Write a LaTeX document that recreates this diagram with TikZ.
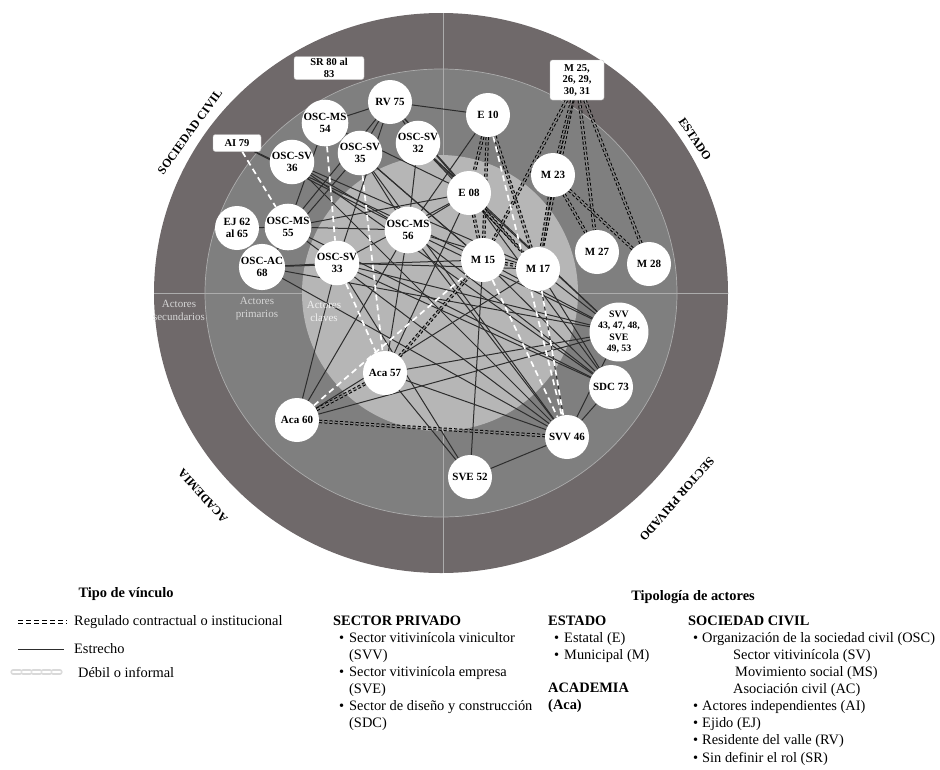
\documentclass[tikz,border=0pt]{standalone}
\usepackage{fontspec}
\setmainfont{Liberation Serif}
\usepackage{tikz}
\definecolor{ringgray}{RGB}{111,105,106}
\definecolor{midgray}{RGB}{127,127,127}
\definecolor{coregray}{RGB}{182,182,182}
\definecolor{gridline}{RGB}{172,172,172}
\definecolor{inkgray}{RGB}{45,45,45}
\definecolor{regfill}{RGB}{140,140,140}
\definecolor{zonetext}{RGB}{214,214,214}
\pgfdeclarelayer{disc}
\pgfdeclarelayer{links}
\pgfsetlayers{disc,links,main}

\begin{document}
\begin{tikzpicture}[x=1pt,y=-1pt,
    actor/.style={circle,fill=white,minimum size=44pt,inner sep=0pt,align=center,
      font=\bfseries\fontsize{11}{11.5}\selectfont},
    bigactor/.style={actor,minimum size=56pt,font=\bfseries\fontsize{9.8}{11.2}\selectfont},
    tagbox/.style={rectangle,rounded corners=2.5pt,draw=gray!45,fill=white,align=center,
      inner sep=0pt,font=\bfseries\fontsize{10.5}{11.5}\selectfont},
    ringlabel/.style={font=\bfseries\fontsize{12}{12}\selectfont},
    zonelabel/.style={align=center,font=\fontsize{11}{13}\selectfont},
    tight/.style={draw=inkgray,line width=1pt},
    regul/.style={draw=black,line width=1pt,double=regfill,double distance=1.4pt,
      dash pattern=on 3pt off 2.2pt},
    weak/.style={draw=white,line width=1.7pt,dash pattern=on 6pt off 4pt},
    weaksample/.style={draw=gray!30,line width=1.2pt,double=white,double distance=2.8pt,
      line cap=round,dash pattern=on 7pt off 3pt},
    legtext/.style={font=\fontsize{14.4}{17.1}\selectfont,inner sep=0pt},
    legtitle/.style={font=\bfseries\fontsize{14.4}{16}\selectfont,inner sep=0pt}
  ]
\useasboundingbox (0,0) rectangle (940,769);

% circulos de fondo
\begin{pgfonlayer}{disc}
  \fill[ringgray] (441,293) ellipse [x radius=287pt, y radius=280pt];
  \fill[midgray] (441,293) ellipse [x radius=236pt, y radius=224pt];
  \draw[gridline,line width=0.7pt] (441,293) ellipse [x radius=236pt, y radius=224pt];
  \begin{scope}
    \clip (441,293) ellipse [x radius=287pt, y radius=280pt];
    \draw[gridline,line width=0.7pt] (443,0) -- (443,600) (140,293) -- (740,293);
  \end{scope}
  \fill[coregray] (440,293) circle [radius=138pt];
\end{pgfonlayer}

% sectores
\node[ringlabel,rotate=54] (civil) at (190,132) {SOCIEDAD CIVIL};
\node[ringlabel,rotate=-56] (estado) at (695,139) {ESTADO};
\node[ringlabel,rotate=-131] (privado) at (677,499) {SECTOR PRIVADO};
\node[ringlabel,rotate=132] (academia) at (203,496) {ACADEMIA};

\node[zonelabel,text=zonetext] (secund) at (179,310) {Actores\\secundarios};
\node[zonelabel,text=zonetext] (prim) at (257,309) {Actores\\primarios};
\node[zonelabel,text=white!88!gray] (claves) at (324,311) {Actores\\claves};

% actores
\node[tagbox,minimum width=70pt,minimum height=23pt] (sr) at (329,68) {SR 80 al\\83};
\node[tagbox,minimum width=54pt,minimum height=40pt] (mbox) at (577,80) {M 25,\\26, 29,\\30, 31};
\node[tagbox,minimum width=48pt,minimum height=17pt] (ai) at (237,143) {AI 79};

\node[actor] (rv) at (390,102) {RV 75};
\node[actor] (ms54) at (325,123) {OSC-MS\\54};
\node[actor] (sv35) at (360,153) {OSC-SV\\35};
\node[actor] (sv32) at (418,143) {OSC-SV\\32};
\node[actor] (sv36) at (292,162) {OSC-SV\\36};
\node[actor] (ej) at (237,228) {EJ 62\\al 65};
\node[actor] (ms55) at (288,227) {OSC-MS\\55};
\node[actor] (ac68) at (262,267) {OSC-AC\\68};
\node[actor] (sv33) at (337,263) {OSC-SV\\33};
\node[actor] (ms56) at (408,230) {OSC-MS\\56};
\node[actor] (e10) at (488,115) {E 10};
\node[actor] (e08) at (469,193) {E 08};
\node[actor] (m23) at (553,175) {M 23};
\node[actor] (m15) at (483,260) {M 15};
\node[actor] (m17) at (538,269) {M 17};
\node[actor] (m27) at (597,252) {M 27};
\node[actor] (m28) at (649,264) {M 28};
\node[bigactor] (svv) at (619,332) {SVV\\43, 47, 48,\\SVE\\49, 53};
\node[actor] (sdc) at (611,387) {SDC 73};
\node[actor] (svv46) at (567,437) {SVV 46};
\node[actor] (sve52) at (470,477) {SVE 52};
\node[actor] (aca57) at (385,373) {Aca 57};
\node[actor] (aca60) at (297,420) {Aca 60};

% vinculos
\begin{pgfonlayer}{links}
  \foreach \a/\b in {rv/ms54,rv/sv35,rv/sv32,rv/e08,rv/e10,rv/ms55,rv/sv33,rv/m17,
      ms54/ms55,ms54/e08,ms54/m15,sv35/ms56,sv35/m15,sv35/ac68,sv35/svv46,
      sv32/e08,sv32/m17,sv32/svv,sv32/ms56,sv36/ms56,sv36/m17,sv36/sdc,sv36/svv46,
      ai/ms56,ai/m15,ej/ms55,ms55/ms56,ms55/sdc,ms55/svv46,ms55/e08,
      ac68/svv,ac68/sv33,ac68/m15,ac68/svv46,
      sv33/aca60,sv33/sdc,sv33/sve52,sv33/m17,sv33/e08,sv33/svv,
      ms56/m17,ms56/svv,ms56/sdc,ms56/aca60,ms56/svv46,ms56/e08,e10/ms56,
      e08/svv,e08/sdc,e08/aca57,m15/sdc,m15/svv,m15/sve52,
      m17/svv,m17/sdc,m17/svv46,svv/svv46,svv46/sdc,sve52/svv46,
      aca57/svv,aca57/sve52,aca57/svv46,aca57/ms56,aca60/svv,aca60/m17}
    \draw[tight] (\a) -- (\b);
  \foreach \a/\b in {mbox/m15,mbox/m17,mbox/m23,mbox/m27,mbox/m28,
      e10/e08,e10/m17,e10/m15,e08/m17,e08/m15,m23/m17,m23/m28,m23/m27,
      m15/m17,aca60/aca57,aca57/m15,aca60/svv46}
    \draw[regul] (\a) -- (\b);
  \foreach \a/\b in {ai/ms55,ms54/sv33,sv35/aca57,e10/svv46,m17/svv46,
      m15/svv46,aca60/m15,sv33/aca57}
    \draw[weak] (\a) -- (\b);
\end{pgfonlayer}

% leyenda: tipo de vinculo
\node[legtitle] (tipovinc) at (126,594) {Tipo de vínculo};
\coordinate (reg1) at (18,622);
\coordinate (reg2) at (67,622);
\draw[regul,double=white,dash pattern=on 5pt off 3pt] (reg1) -- (reg2);
\node[legtext,anchor=west] (regtxt) at (74,622) {Regulado contractual o institucional};
\coordinate (est1) at (18,649);
\coordinate (est2) at (64,649);
\draw[tight] (est1) -- (est2);
\node[legtext,anchor=west] (esttxt) at (74,649) {Estrecho};
\coordinate (deb1) at (13,672);
\coordinate (deb2) at (62,672);
\draw[weaksample] (deb1) -- (deb2);
\node[legtext,anchor=west] (debtxt) at (78,672) {Débil o informal};

% leyenda: tipologia
\node[legtitle] (tipolog) at (693,597) {Tipología de actores};
\node[legtext,anchor=north west,align=left] (colpriv) at (333,615.5) {\textbf{SECTOR PRIVADO}\\
  \hspace*{6pt}\textbullet\hspace*{5pt}Sector vitivinícola vinicultor\\
  \hspace*{16pt}(SVV)\\
  \hspace*{6pt}\textbullet\hspace*{5pt}Sector vitivinícola empresa\\
  \hspace*{16pt}(SVE)\\
  \hspace*{6pt}\textbullet\hspace*{5pt}Sector de diseño y construcción\\
  \hspace*{16pt}(SDC)};
\node[legtext,anchor=north west,align=left] (colestado) at (548,615.5) {\textbf{ESTADO}\\
  \hspace*{6pt}\textbullet\hspace*{5pt}Estatal (E)\\
  \hspace*{6pt}\textbullet\hspace*{5pt}Municipal (M)\\[15.5pt]
  \textbf{ACADEMIA}\\
  \textbf{(Aca)}};
\node[legtext,anchor=north west,align=left] (colcivil) at (688,615.5) {\textbf{SOCIEDAD CIVIL}\\
  \hspace*{5pt}\textbullet\hspace*{4pt}Organización de la sociedad civil (OSC)\\
  \hspace*{45pt}Sector vitivinícola (SV)\\
  \hspace*{47pt}Movimiento social (MS)\\
  \hspace*{45pt}Asociación civil (AC)\\
  \hspace*{5pt}\textbullet\hspace*{4pt}Actores independientes (AI)\\
  \hspace*{5pt}\textbullet\hspace*{4pt}Ejido (EJ)\\
  \hspace*{5pt}\textbullet\hspace*{4pt}Residente del valle (RV)\\
  \hspace*{5pt}\textbullet\hspace*{4pt}Sin definir el rol (SR)};
\end{tikzpicture}
\end{document}
